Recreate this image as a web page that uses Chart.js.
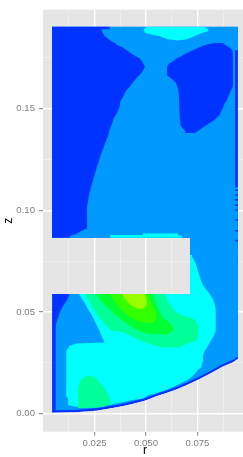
<!DOCTYPE html>
<html>
<head>
<meta charset="utf-8">
<script src="https://cdn.jsdelivr.net/npm/chart.js@4.4.0/dist/chart.umd.min.js"></script>
<style>
  html, body { margin: 0; padding: 0; overflow: hidden; background: #fff; }
  canvas { display: block; }
</style>
</head>
<body>
<canvas id="contour" width="250" height="457"></canvas>
<script>
// axes
const rLimits = [-0.0001, 0.0991];
const zLimits = [-0.0088, 0.1985];
const xMajor = [0.025, 0.05, 0.075];
const xMinor = [0.0125, 0.0375, 0.0625, 0.0875];
const xTickLabels = ["0.025", "0.050", "0.075"];
const yMajor = [0, 0.05, 0.1, 0.15];
const yMinor = [0.025, 0.075, 0.125, 0.175];
const yTickLabels = ["0.00", "0.05", "0.10", "0.15"];

// one colour per contour level, low -> high
const levelColors = ["#0033FF", "#0099FF", "#00FFFF", "#00FF99", "#00FF33", "#33FF00", "#99FF00"];

// filled regions, [r, z] vertices
const domain = [[0.0043,0.1902],[0.0947,0.1902],[0.0947,0.0271],[0.0923,0.0253],[0.0874,0.0232],[0.0810,0.0197],
  [0.0753,0.0167],[0.0696,0.0140],[0.0647,0.0119],[0.0599,0.0102],[0.0550,0.0086],[0.0501,0.0067],[0.0485,0.0062],
  [0.0428,0.0047],[0.0372,0.0034],[0.0323,0.0026],[0.0258,0.0015],[0.0190,0.0010],[0.0161,0.0007],[0.0043,0.0005],
  [0.0043,0.0589],[0.0714,0.0589],[0.0714,0.0865],[0.0043,0.0865]];

const midBlue = [[0,0.195],[0.1,0.195],[0.1,0.1786],[0.0933,0.1786],[0.0933,0.1113],[0.1,0.1113],[0.1,0.0283],
  [0.0947,0.0283],[0.0923,0.0265],[0.0874,0.0244],[0.0810,0.0209],[0.0753,0.0180],[0.0696,0.0152],[0.0647,0.0131],
  [0.0599,0.0114],[0.0550,0.0098],[0.0501,0.0079],[0.0428,0.0059],[0.0372,0.0046],[0.0323,0.0038],[0.0258,0.0027],
  [0.0190,0.0022],[0.0161,0.0019],[0.0061,0.0017],[0.0061,0.0423],[0.0064,0.0448],[0.0072,0.0472],[0.0080,0.0496],
  [0.0091,0.0518],[0.0101,0.0537],[0.0112,0.0553],[0.0121,0.0569],[0.0129,0.0589],[0.0129,0.0650],[0,0.0650]];

const leftLow = [[0,0.195],[0.0323,0.195],[0.0323,0.1889],[0.0283,0.1889],[0.0291,0.1870],[0.0299,0.1856],
  [0.0315,0.1843],[0.0331,0.1831],[0.0348,0.1822],[0.0364,0.1810],[0.0388,0.1799],[0.0412,0.1783],[0.0428,0.1770],
  [0.0450,0.1756],[0.0469,0.1745],[0.0482,0.1729],[0.0495,0.1705],[0.0482,0.1680],[0.0469,0.1664],[0.0453,0.1648],
  [0.0433,0.1624],[0.0421,0.1607],[0.0404,0.1588],[0.0393,0.1567],[0.0385,0.1550],[0.0375,0.1535],[0.0372,0.1510],
  [0.0359,0.1478],[0.0344,0.1453],[0.0335,0.1426],[0.0323,0.1396],[0.0315,0.1364],[0.0302,0.1332],[0.0291,0.1302],
  [0.0281,0.1275],[0.0271,0.1243],[0.0262,0.1215],[0.0252,0.1182],[0.0242,0.1145],[0.0232,0.1113],[0.0223,0.1072],
  [0.0213,0.1015],[0.0213,0.0959],[0.0214,0.0910],[0.0203,0.0907],[0.0179,0.0894],[0.0155,0.0881],[0.0129,0.0874],
  [0.0129,0.0800],[0,0.0800]];

const rightLow = [[0.0602,0.1705],[0.0612,0.1721],[0.0628,0.1729],[0.0647,0.1745],[0.0672,0.1756],[0.0693,0.1770],
  [0.0720,0.1783],[0.0744,0.1794],[0.0769,0.1805],[0.0801,0.1815],[0.0834,0.1822],[0.0874,0.1822],[0.0890,0.1810],
  [0.0907,0.1799],[0.0920,0.1786],[0.0923,0.1755],[0.0923,0.1609],[0.0907,0.1575],[0.0894,0.1542],[0.0883,0.1526],
  [0.0874,0.1502],[0.0866,0.1486],[0.0855,0.1464],[0.0834,0.1445],[0.0810,0.1429],[0.0793,0.1416],[0.0774,0.1405],
  [0.0758,0.1393],[0.0737,0.1380],[0.0693,0.1380],[0.0688,0.1393],[0.0676,0.1405],[0.0669,0.1413],[0.0664,0.1453],
  [0.0660,0.1559],[0.0655,0.1599],[0.0647,0.1624],[0.0631,0.1640],[0.0612,0.1656],[0.0602,0.1664]];

// thin low patches on the outer wall
const wallDashZ = [0.1098, 0.1075, 0.1051, 0.1025, 0.1001, 0.0952, 0.0899, 0.0851];

const topCyan = [[0.0487,0.1889],[0.0510,0.1902],[0.0777,0.1902],[0.0803,0.1891],[0.0803,0.1881],[0.0762,0.1867],
  [0.0730,0.1852],[0.0698,0.1840],[0.0655,0.1834],[0.0607,0.1840],[0.0568,0.1855],[0.0520,0.1865],[0.0495,0.1872]];

const holeCyan = [[0.0325,0.0878],[0.0485,0.0878],[0.0485,0.0886],[0.0655,0.0886],[0.0655,0.0878],[0.0676,0.0872],
  [0.0676,0.0845],[0.0325,0.0845]];

const lowerCyan = [[0.0174,0.0602],[0.0174,0.0589],[0.0190,0.0561],[0.0202,0.0545],[0.0210,0.0529],[0.0218,0.0513],
  [0.0229,0.0496],[0.0239,0.0480],[0.0250,0.0456],[0.0262,0.0431],[0.0275,0.0407],[0.0283,0.0383],[0.0299,0.0350],
  [0.0161,0.0345],[0.0129,0.0334],[0.0112,0.0310],[0.0112,0.0083],[0.0121,0.0076],[0.0121,0.0042],[0.0161,0.0034],
  [0.0242,0.0031],[0.0283,0.0034],[0.0315,0.0042],[0.0372,0.0054],[0.0428,0.0067],[0.0485,0.0075],[0.0510,0.0091],
  [0.0542,0.0099],[0.0566,0.0107],[0.0591,0.0115],[0.0615,0.0124],[0.0639,0.0135],[0.0664,0.0148],[0.0680,0.0156],
  [0.0704,0.0167],[0.0720,0.0180],[0.0737,0.0197],[0.0753,0.0216],[0.0769,0.0229],[0.0774,0.0253],[0.0777,0.0286],
  [0.0785,0.0310],[0.0797,0.0326],[0.0810,0.0350],[0.0826,0.0375],[0.0839,0.0407],[0.0839,0.0513],[0.0834,0.0537],
  [0.0826,0.0561],[0.0817,0.0578],[0.0806,0.0594],[0.0793,0.0610],[0.0780,0.0626],[0.0769,0.0650],[0.0761,0.0675],
  [0.0753,0.0699],[0.0744,0.0732],[0.0737,0.0748],[0.0728,0.0767],[0.0725,0.0780],[0.0705,0.0780],[0.0705,0.0602]];

const cornerAqua = [[0.0169,0.0028],[0.0169,0.0115],[0.0174,0.0145],[0.0184,0.0164],[0.0198,0.0178],[0.0213,0.0186],
  [0.0237,0.0186],[0.0257,0.0174],[0.0271,0.0156],[0.0286,0.0140],[0.0299,0.0124],[0.0310,0.0106],[0.0320,0.0083],
  [0.0327,0.0067],[0.0325,0.0047],[0.0301,0.0037],[0.0252,0.0030],[0.0203,0.0028]];

const upperAqua = [[0.0202,0.0602],[0.0202,0.0589],[0.0223,0.0553],[0.0234,0.0534],[0.0242,0.0518],[0.0255,0.0501],
  [0.0266,0.0480],[0.0278,0.0464],[0.0291,0.0448],[0.0307,0.0432],[0.0323,0.0415],[0.0339,0.0407],[0.0388,0.0402],
  [0.0437,0.0376],[0.0485,0.0354],[0.0519,0.0343],[0.0573,0.0326],[0.0664,0.0326],[0.0696,0.0343],[0.0743,0.0359],
  [0.0753,0.0378],[0.0753,0.0432],[0.0742,0.0456],[0.0728,0.0469],[0.0688,0.0480],[0.0664,0.0488],[0.0639,0.0505],
  [0.0631,0.0518],[0.0615,0.0537],[0.0602,0.0561],[0.0591,0.0589],[0.0591,0.0602]];

const peakGreen = [[0.0258,0.0602],[0.0258,0.0589],[0.0271,0.0569],[0.0283,0.0553],[0.0299,0.0537],[0.0315,0.0521],
  [0.0331,0.0505],[0.0348,0.0488],[0.0369,0.0472],[0.0388,0.0456],[0.0412,0.0440],[0.0437,0.0423],[0.0469,0.0407],
  [0.0500,0.0394],[0.0529,0.0391],[0.0607,0.0391],[0.0628,0.0407],[0.0631,0.0423],[0.0615,0.0448],[0.0583,0.0472],
  [0.0569,0.0496],[0.0558,0.0521],[0.0547,0.0553],[0.0534,0.0589],[0.0534,0.0602]];

const peakLime = [[0.0323,0.0602],[0.0323,0.0589],[0.0348,0.0553],[0.0372,0.0521],[0.0396,0.0496],[0.0428,0.0472],
  [0.0461,0.0456],[0.0495,0.0446],[0.0529,0.0446],[0.0552,0.0466],[0.0549,0.0495],[0.0534,0.0529],[0.0519,0.0563],
  [0.0510,0.0589],[0.0510,0.0602]];

const peakTop = [[0.0382,0.0602],[0.0382,0.0589],[0.0398,0.0563],[0.0422,0.0537],[0.0451,0.0518],[0.0480,0.0514],
  [0.0503,0.0529],[0.0503,0.0563],[0.0495,0.0589],[0.0495,0.0602]];

// drawing order: first is painted first (bottom)
const regions = [
  [0, domain], [1, midBlue], [0, leftLow], [0, rightLow],
  ...wallDashZ.map(z => [0, [[0.0933, z + 0.0004], [0.1, z + 0.0004], [0.1, z - 0.0004], [0.0933, z - 0.0004]]]),
  [2, topCyan], [2, holeCyan], [2, lowerCyan],
  [3, cornerAqua], [3, upperAqua], [4, peakGreen], [5, peakLime], [6, peakTop]
];

const panelBg = {
  id: "panelBg",
  beforeDraw(chart) {
    const { ctx, chartArea: a } = chart;
    ctx.save();
    ctx.fillStyle = "#E5E5E5";
    ctx.fillRect(a.left, a.top, a.right - a.left, a.bottom - a.top);
    ctx.restore();
  },
};

// keep the fills inside the computational domain (leaves the notch and the curved wall empty)
const domainClip = {
  id: "domainClip",
  beforeDatasetsDraw(chart) {
    const { ctx, scales } = chart;
    ctx.save();
    ctx.beginPath();
    domain.forEach(([r, z], i) => {
      const px = scales.x.getPixelForValue(r);
      const py = scales.y.getPixelForValue(z);
      if (i === 0) ctx.moveTo(px, py);
      else ctx.lineTo(px, py);
    });
    ctx.closePath();
    ctx.clip();
  },
  afterDatasetsDraw(chart) {
    chart.ctx.restore();
  },
};

function gridStyle(major) {
  return {
    color: (c) => (c.tick && major.includes(c.tick.value) ? "#FFFFFF" : "#F2F2F2"),
    lineWidth: (c) => (c.tick && major.includes(c.tick.value) ? 1.4 : 0.7),
    tickColor: (c) => (c.tick && major.includes(c.tick.value) ? "#7F7F7F" : "rgba(0,0,0,0)"),
    tickLength: 4,
    tickWidth: 1,
    drawTicks: true,
  };
}

const tickFont = { family: "Liberation Sans", size: 9.6 };
const titleFont = { family: "Liberation Sans", size: 12, lineHeight: 1 };

new Chart(document.getElementById("contour"), {
  type: "scatter",
  data: {
    datasets: regions.map(([level, pts], i) => ({
      data: pts.map(([r, z]) => ({ x: r, y: z })),
      showLine: true,
      fill: "shape",
      backgroundColor: levelColors[level],
      borderColor: "rgba(0,0,0,0)",
      borderWidth: 0,
      pointRadius: 0,
      pointHoverRadius: 0,
      order: regions.length - i,
    })),
  },
  options: {
    responsive: false,
    animation: false,
    devicePixelRatio: 1,
    events: [],
    layout: { padding: { top: 5.7, right: 3, left: 0, bottom: 0 } },
    plugins: { legend: { display: false }, tooltip: { enabled: false } },
    scales: {
      x: {
        type: "linear",
        min: rLimits[0],
        max: rLimits[1],
        afterBuildTicks: (s) => {
          s.ticks = xMajor.concat(xMinor).sort((a, b) => a - b).map((v) => ({ value: v }));
        },
        afterFit: (s) => { s.height = 25.3; },
        ticks: {
          autoSkip: false,
          maxRotation: 0,
          padding: 2,
          color: "#7F7F7F",
          font: tickFont,
          callback: (v) => { const k = xMajor.indexOf(v); return k < 0 ? "" : xTickLabels[k]; },
        },
        grid: gridStyle(xMajor),
        border: { display: false },
        title: { display: true, text: "r", color: "#000000", font: titleFont, padding: { top: 0, bottom: 0 } },
      },
      y: {
        type: "linear",
        min: zLimits[0],
        max: zLimits[1],
        afterBuildTicks: (s) => {
          s.ticks = yMajor.concat(yMinor).sort((a, b) => a - b).map((v) => ({ value: v }));
        },
        afterFit: (s) => { s.width = 43; },
        ticks: {
          autoSkip: false,
          padding: 4,
          color: "#7F7F7F",
          font: tickFont,
          callback: (v) => { const k = yMajor.indexOf(v); return k < 0 ? "" : yTickLabels[k]; },
        },
        grid: gridStyle(yMajor),
        border: { display: false },
        title: { display: true, text: "z", color: "#000000", font: titleFont, padding: { top: 3, bottom: 0 } },
      },
    },
  },
  plugins: [panelBg, domainClip],
});
</script>
</body>
</html>
